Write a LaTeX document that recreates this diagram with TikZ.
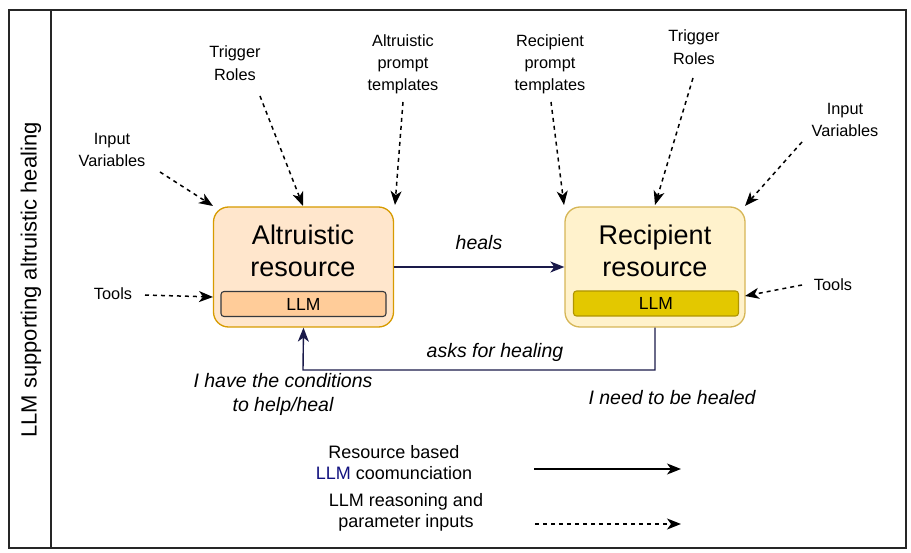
\documentclass[tikz,border=0pt]{standalone}
\usepackage{fontspec}
\setmainfont{Liberation Sans}
\usetikzlibrary{arrows.meta}
\definecolor{navy}{HTML}{1A1A4A}
\definecolor{altfill}{HTML}{FFE6CC}
\definecolor{altdraw}{HTML}{D79B00}
\definecolor{altllm}{HTML}{FFCC99}
\definecolor{recfill}{HTML}{FFF2CC}
\definecolor{recdraw}{HTML}{D6B656}
\definecolor{recllm}{HTML}{E3C800}
\definecolor{recllmdraw}{HTML}{B09500}
\definecolor{greydraw}{HTML}{36393D}
\tikzset{
  resbox/.style={rounded corners=15pt, line width=1.3pt, minimum width=180pt, minimum height=120pt, inner sep=0pt},
  llmbox/.style={rounded corners=3pt, line width=1.1pt, minimum width=165pt, minimum height=25pt, inner sep=0pt, font=\fontsize{17.5}{17.5}\selectfont},
  lbl/.style={align=center, font=\fontsize{16.3}{22.5}\selectfont, inner sep=1pt},
  ital/.style={align=center, font=\fontsize{19.5}{23.5}\selectfont\itshape, inner sep=1pt},
  leg/.style={align=center, font=\fontsize{18}{21.5}\selectfont, inner sep=1pt},
  dasharrow/.style={dash pattern=on 4pt off 4pt, line width=1.5pt, -{Stealth[length=14pt,width=11pt,inset=4pt]}},
  solidarrow/.style={line width=1.4pt, -{Stealth[length=14pt,width=11pt,inset=4pt]}},
  biglbl/.style={align=center, font=\fontsize{27}{32}\selectfont, inner sep=0pt}
}
\begin{document}
\begin{tikzpicture}[x=1pt,y=-1pt]
\useasboundingbox (0,0) rectangle (911,553);
% frame
\draw[line width=1.6pt, black!85] (9,10) rectangle (906,548);
\draw[line width=1.6pt, black!85] (51,10) -- (51,548);
\node[rotate=90, font=\fontsize{22}{22}\selectfont] (title) at (31,280) {LLM supporting altruistic healing};

% resource boxes
\node[resbox, draw=altdraw, fill=altfill] (alt) at (303.5,267) {};
\node[biglbl] (altt) at (303,251) {Altruistic\\resource};
\node[llmbox, draw=greydraw, fill=altllm] (altllm) at (303.5,304) {LLM};

\node[resbox, draw=recdraw, fill=recfill] (rec) at (655,267) {};
\node[biglbl] (rect) at (655,251) {Recipient\\resource};
\node[llmbox, draw=recllmdraw, fill=recllm] (recllm) at (656,303.5) {LLM};

% heals
\draw[solidarrow, navy] (alt.east) -- (rec.west);
\node[ital] (heals) at (479,243) {heals};
% asks for healing
\coordinate (c1) at (655,370);
\coordinate (c2) at (303,370);
\draw[solidarrow, navy] (rec.south) -- (c1) -- (c2) -- (alt.south);
\node[ital] (asks) at (495,352) {asks for healing};
\node[ital] (have) at (283,394.5) {I have the conditions\\to help/heal};
\node[ital] (need) at (672,398) {I need to be healed};

% input labels left
\node[lbl] (iv1) at (112,150) {Input\\Variables};
\node[lbl] (tr1) at (235,63) {Trigger\\Roles};
\node[lbl, font=\fontsize{16.3}{22}\selectfont] (apt) at (403,64) {Altruistic\\prompt\\templates};
\node[lbl] (tl1) at (113,294) {Tools};
\coordinate (iv1s) at (160,172);
\coordinate (iv1e) at (213,206);
\coordinate (tr1s) at (260,96);
\coordinate (tr1e) at (303,206);
\coordinate (apts) at (403,102);
\coordinate (apte) at (395,205);
\coordinate (tl1s) at (145,295);
\coordinate (tl1e) at (213,297);
\draw[dasharrow] (iv1s) -- (iv1e);
\draw[dasharrow] (tr1s) -- (tr1e);
\draw[dasharrow] (apts) -- (apte);
\draw[dasharrow] (tl1s) -- (tl1e);

% input labels right
\node[lbl, font=\fontsize{16.3}{22}\selectfont] (rpt) at (550,64) {Recipient\\prompt\\templates};
\node[lbl] (tr2) at (694,47) {Trigger\\Roles};
\node[lbl] (iv2) at (845,120) {Input\\Variables};
\node[lbl] (tl2) at (833,285) {Tools};
\coordinate (rpts) at (551,102);
\coordinate (rpte) at (564,205);
\coordinate (tr2s) at (693,78);
\coordinate (tr2e) at (655,205);
\coordinate (iv2s) at (802,142);
\coordinate (iv2e) at (745,206);
\coordinate (tl2s) at (802,285);
\coordinate (tl2e) at (745,296);
\draw[dasharrow] (rpts) -- (rpte);
\draw[dasharrow] (tr2s) -- (tr2e);
\draw[dasharrow] (iv2s) -- (iv2e);
\draw[dasharrow] (tl2s) -- (tl2e);

% legend
\node[leg] (leg1) at (394,462.5) {Resource based\\{\color{navy!70!blue}LLM} coomunciation};
\node[leg] (leg2) at (406,512.5) {LLM reasoning and\\parameter inputs};
\coordinate (l1s) at (534,469);
\coordinate (l1e) at (681,469);
\coordinate (l2s) at (535,524);
\coordinate (l2e) at (681,524);
\draw[solidarrow] (l1s) -- (l1e);
\draw[dasharrow] (l2s) -- (l2e);
\end{tikzpicture}
\end{document}
